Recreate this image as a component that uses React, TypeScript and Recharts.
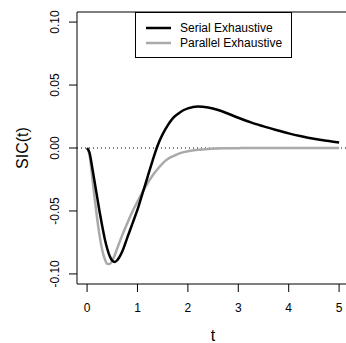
import React from 'react';
import { LineChart, Line, XAxis, YAxis, ReferenceLine, Legend } from 'recharts';

// time grid shared by both curves
const tValues = [
  0, 0.05, 0.1, 0.15, 0.2, 0.25, 0.3, 0.35, 0.4, 0.45, 0.5, 0.55, 0.6, 0.7, 0.8, 0.9,
  1.0, 1.1, 1.2, 1.3, 1.4, 1.5, 1.6, 1.7, 1.8, 1.9, 2.0, 2.2, 2.4, 2.6, 2.8, 3.0,
  3.25, 3.5, 3.75, 4.0, 4.25, 4.5, 4.75, 5.0,
];

const serialExhaustive = [
  0, -0.004, -0.015, -0.027, -0.039, -0.051, -0.062, -0.072, -0.08, -0.086, -0.0895, -0.0905, -0.089, -0.082, -0.071, -0.06,
  -0.049, -0.036, -0.023, -0.01, 0.002, 0.011, 0.018, 0.0235, 0.027, 0.0298, 0.0315, 0.033, 0.0322, 0.0302, 0.0272, 0.024,
  0.0203, 0.0172, 0.0143, 0.0116, 0.0093, 0.0073, 0.0057, 0.0044,
];

const parallelExhaustive = [
  0, -0.006, -0.022, -0.04, -0.056, -0.07, -0.081, -0.088, -0.092, -0.0922, -0.0895, -0.085, -0.0795, -0.069, -0.0595, -0.0505,
  -0.0425, -0.035, -0.028, -0.0218, -0.0167, -0.0122, -0.0088, -0.0066, -0.0048, -0.0035, -0.0026, -0.0014, -0.0007, -0.0004, -0.0002, -0.0001,
  0, 0, 0, 0, 0, 0, 0, 0,
];

const xTicks = [0, 1, 2, 3, 4, 5];
const yTicks = [-0.1, -0.05, 0, 0.05, 0.1];

const SERIAL_COLOR = '#000000';
const PARALLEL_COLOR = '#aaaaaa';
const FONT = '"Liberation Sans", Arial, Helvetica, sans-serif';

const chartData = tValues.map((t, i) => ({
  t,
  serial: serialExhaustive[i],
  parallel: parallelExhaustive[i],
}));

// y tick labels are rotated like base R (las = 0)
const YTick = ({ y, payload }: any) => (
  <text
    x={59}
    y={y}
    transform={`rotate(-90, 59, ${y})`}
    textAnchor="middle"
    fontSize={12}
    fontFamily={FONT}
    fill="#000"
  >
    {payload.value.toFixed(2)}
  </text>
);

const YTitle = ({ viewBox }: any) => {
  const cy = viewBox.y + viewBox.height / 2;
  return (
    <text x={28} y={cy} transform={`rotate(-90, 28, ${cy})`} textAnchor="middle" fontSize={16} fontFamily={FONT} fill="#000">
      SIC(t)
    </text>
  );
};

const XTitle = ({ viewBox }: any) => (
  <text x={213} y={viewBox.y + 57} textAnchor="middle" fontSize={16} fontFamily={FONT} fill="#000">
    t
  </text>
);

const legendItems = [
  { label: 'Serial Exhaustive', color: SERIAL_COLOR },
  { label: 'Parallel Exhaustive', color: PARALLEL_COLOR },
];

const LegendBox = () => (
  <svg width={157} height={46} style={{ display: 'block' }}>
    <rect x={0.5} y={0.5} width={156} height={45} fill="#fff" stroke="#000" strokeWidth={1} />
    {legendItems.map((item, i) => (
      <g key={item.label}>
        <line x1={11} x2={36} y1={16 + i * 15} y2={16 + i * 15} stroke={item.color} strokeWidth={2.5} />
        <text x={45} y={20 + i * 15} fontSize={12} fontFamily={FONT} fill="#000">
          {item.label}
        </text>
      </g>
    ))}
  </svg>
);

export default function App() {
  return (
    <div style={{ position: 'absolute', left: 0, top: 0, width: 346, height: 343, background: '#fff' }}>
      <LineChart width={346} height={343} data={chartData} margin={{ top: 12, right: 0, bottom: 0, left: 0 }}>
        <XAxis
          dataKey="t"
          type="number"
          domain={[-0.2, 5.137]}
          ticks={xTicks}
          allowDataOverflow
          height={59}
          tickSize={8}
          tickMargin={11}
          axisLine={{ stroke: '#000', strokeWidth: 1 }}
          tickLine={{ stroke: '#000', strokeWidth: 1 }}
          tick={{ fill: '#000', fontSize: 12, fontFamily: FONT }}
          label={<XTitle />}
        />
        <YAxis
          type="number"
          domain={[-0.108, 0.108]}
          ticks={yTicks}
          allowDataOverflow
          width={77}
          tickSize={8}
          axisLine={{ stroke: '#000', strokeWidth: 1 }}
          tickLine={{ stroke: '#000', strokeWidth: 1 }}
          tick={<YTick />}
          label={<YTitle />}
        />
        {/* top edge of the box */}
        <ReferenceLine y={0.108} stroke="#000" strokeWidth={1} />
        <ReferenceLine y={0} stroke="#000" strokeWidth={1} strokeDasharray="1 3" />
        <Line
          type="monotone"
          dataKey="parallel"
          stroke={PARALLEL_COLOR}
          strokeWidth={2.5}
          dot={false}
          isAnimationActive={false}
        />
        <Line
          type="monotone"
          dataKey="serial"
          stroke={SERIAL_COLOR}
          strokeWidth={2.5}
          dot={false}
          isAnimationActive={false}
        />
        <Legend
          layout="horizontal"
          align="center"
          verticalAlign="middle"
          content={<LegendBox />}
          wrapperStyle={{ left: 135, top: 12, width: 157, height: 46 }}
        />
      </LineChart>
    </div>
  );
}
